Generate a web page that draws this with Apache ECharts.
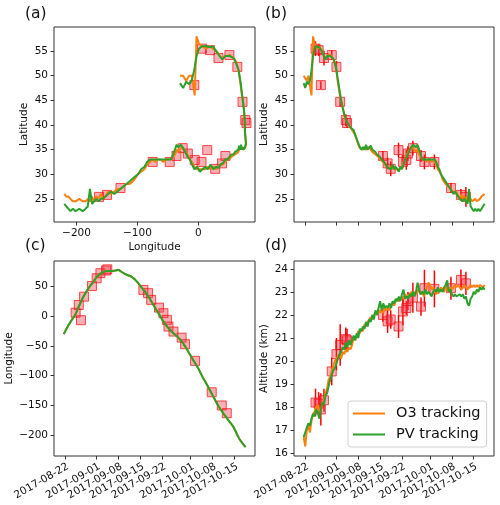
<!DOCTYPE html>
<html><head><meta charset="utf-8">
<script src="https://cdn.jsdelivr.net/npm/echarts@6/dist/echarts.min.js"></script>
<style>html,body{margin:0;padding:0;background:#fff}#c{width:500px;height:505px}</style>
</head><body><div id="c"></div>
<script>
// Sampling of the tracks: every half day, day number = days since 31 July 2017
const startDay = 21.5, stepDays = 0.5;

const pvLon = [-30,-25,-20,-15,-11,-7,-3,1,6,13,19,24,30,35,39.5,44,48,51.5,55,58.4,62,66,69,71,73,74.5,75.5,76,76.5,76,76.5,76,76.5,77,77.5,78,76.5,74.5,73,71.5,70,69,68,67,65.5,63,60,57.5,54,51,47.5,44,40.5,37,33,29,24.5,20,15.5,11,7,2.5,-2,-6.5,-10.5,-14,-17.5,-20.5,-23.5,-26,-28.5,-31,-33,-35.5,-38.5,-41.5,-45,-49,-53,-57.5,-62,-66.5,-71,-75.5,-79.5,-84,-88.5,-94,-99,-104.5,-109,-113.5,-118,-123,-128,-133,-138,-143,-148,-152.5,-156.5,-160,-164,-167.5,-171,-174.5,-178,-181.5,-185,-190,-195.5,-201.5,-206,-210,-213.5,-217,-220];
const o3Lon = [-30,-25,-20,-15,-11,-6,-3,1,6,13,19,24,30,35,39.5,44,48,51.5,55,58.4,62.5,66,69,71,73,74.5,75.5,76,76.5,76,76.5,76,76.5,77,77.5,78.5,76.5,74.5,73,71.5,70,69,68,67,65.5,63,60,57.5,54,51,47.5,44,40.5,37,33,29,24.5,20,15.5,11,7.5,2.5,-2,-6.5,-10.5,-14,-17.5,-20.5,-23.5,-26,-28.5,-31,-33,-35.5,-38.5,-41.5,-45,-49,-53,-57.5,-62,-66.5,-71,-75.5,-79.5,-84,-88.5,-94,-99,-104.5,-108,-113.5,-118,-123,-128,-133,-138,-143,-148,-152.5,-156.5,-160,-164,-167.5,-171,-175,-178,-181.5,-185,-190,-195.5,-201.5,-206,-210,-213.5,-217,-220];
const pvLat = [48.5,47.5,48.8,48.3,49,51,54,55.5,56,56,55.8,56,54.8,54,53.3,54,54,54,53.8,53.5,52.5,51.2,49,47,45,43.5,42.3,41.2,40.5,40,39.5,39.2,39,38,37.2,36.3,35.5,35,35.5,35,36,35,35,35.8,35,35,34.5,34,34,33.5,33,33,32.3,32,31.3,31.5,31,32,31,31.5,31,30.5,31.5,31,32,33,33.5,33.5,35,35.5,36,36,35.5,36,35,34,33,33,33,33,33,33,33,33,33,32.5,31.5,31,30,29.5,29,28.5,28,27.5,27,26.5,26,26.5,26,25.5,25,25,24.5,25,24.5,24,27,23.5,23,22.5,23,22.5,23,22.5,23,23.5,24];
const o3Lat = [50,50,49,50,50,46,58,56.5,56,55.5,56,55.5,55,54,53.5,54,54,54.3,53.8,53.5,52.8,51,48.5,46.5,45,43.5,42,41,40.5,40,39.5,39,38.5,38,37,36,35.3,35,35,35.5,35,35,35.5,35,34.5,34.5,34,34,33.5,33,33,32.5,32,32,31.5,31,31.5,31,31.5,31,31,31,31,31.5,32.5,33,34,34,35,35.5,35.5,35,34.5,35,34,33.5,33,33,33,32.5,33,33,32.5,33,32.5,32,31,30.5,30,29,28.5,28,28,27.5,27,27,26.5,26,26.5,25.5,25,26,25,25.5,24.5,25.5,24.5,25,24.5,24.5,25,24.5,24.5,25,25.5,25.5,26];
const pvAlt = [16.7,16.9,17.1,17.3,17.2,17.5,17.7,17.6,17.9,17.8,17.5,17.9,18.2,18.1,18.5,18.6,18.9,19.2,19.4,19.6,19.7,19.9,20.1,20.3,20.4,20.6,20.5,20.8,20.6,20.9,20.7,20.9,21.1,20.9,21.2,21.0,21.4,21.3,21.5,21.4,21.7,21.5,21.8,21.7,22.0,21.8,22.2,22.0,22.3,22.6,22.2,22.5,22.3,22.4,22.3,22.5,22.3,22.6,22.5,22.7,22.6,22.8,22.6,22.9,23.1,22.7,22.8,22.7,22.9,22.8,23.0,22.8,23.0,23.4,23.1,22.9,23.0,22.9,23.1,22.9,23.0,22.9,22.8,23.0,23.1,23.0,23.2,23.0,23.1,23.0,23.2,23.3,23.5,23.0,23.1,22.9,22.8,22.9,22.8,22.8,22.9,22.8,22.9,22.7,22.8,22.5,22.4,22.7,22.8,23.0,22.9,23.1,23.0,23.2,23.1,23.2,23.1];
const o3Alt = [16.7,16.3,17.0,17.2,16.9,17.4,17.7,17.8,18.0,18.1,17.8,17.9,18.1,18.3,18.6,18.8,19.2,19.3,19.6,19.8,20.0,20.1,20.2,20.3,20.1,20.4,20.3,20.5,20.4,20.6,20.5,20.7,21.0,20.9,21.1,21.3,21.2,21.4,21.3,21.6,21.5,21.7,21.8,21.9,21.8,22.0,22.1,22.0,22.2,22.1,22.2,22.1,22.3,22.2,22.3,22.2,22.4,22.5,22.4,22.6,22.7,22.6,22.7,22.8,22.7,22.9,22.8,22.9,22.8,23.0,22.9,23.0,22.9,23.1,23.0,22.9,23.0,22.8,23.0,23.2,23.4,23.3,23.1,23.2,23.0,22.9,23.1,23.0,23.2,23.1,23.0,23.2,23.1,23.0,23.2,23.1,23.2,23.3,23.2,23.3,23.2,23.1,23.2,23.3,23.2,23.1,23.2,23.3,23.2,23.3,23.2,23.3,23.2,23.3,23.3,23.2,23.3];

// Observations (red squares with error bars)
const obsDay = [25.3,26.3,27.0,28.0,30.5,32.0,33.2,35.0,35.4,46.9,48.4,49.4,51.9,53.3,54.4,54.9,56.5,59.1,60.2,63.4,68.7,71.9,73.5];
const obsLon = [6,19,-6.6,33,51,64,72.5,77,79,44.4,38.9,27.6,14.6,5.2,-6,-17.3,-25.7,-35.9,-47,-75,-127.8,-150,-163];
const obsLat = [55.5,55.2,48.1,53.6,54.2,51.8,44.7,41.0,40.4,33.7,32.2,31.1,34.9,32.5,32.9,34.2,35.3,33.7,32.5,32.5,27.2,25.8,25.4];
const obsLatErr = [1.5,1.2,0.8,1.5,1.0,1.2,1.0,1.2,1.0,1.0,1.2,1.5,1.5,1.2,2.0,1.5,1.5,1.2,1.5,1.5,1.0,1.2,2.0];
const obsAlt = [18.2,18.15,17.9,18.3,19.55,20.3,20.7,20.95,20.9,22.0,21.72,21.8,21.5,22.15,22.3,22.6,22.75,22.36,23.16,23.13,23.16,23.52,23.37];
const obsAltErr = [0.6,0.5,0.7,0.5,0.6,0.7,0.9,0.5,0.5,0.3,0.5,0.4,0.5,0.6,0.3,0.4,0.65,0.4,0.8,0.8,0.5,0.45,0.5];

// Tick labels
const tickDays = [22,32,39,46,53,62,69,76];
const tickLabels = ['2017-08-22','2017-09-01','2017-09-08','2017-09-15','2017-09-22','2017-10-01','2017-10-08','2017-10-15'];
const lonTicksA = [-200,-100,0];
const latTicks = [25,30,35,40,45,50,55];
const lonTicksC = [-200,-150,-100,-50,0,50];
const altTicks = [16,17,18,19,20,21,22,23,24];

const O3C = '#ff7f0e', PVC = '#2ca02c';
const FONT = 'DejaVu Sans';
const days = pvLon.map((_, i) => startDay + stepDays * i);
const zip = (a, b) => a.map((v, i) => [v, b[i]]);
const minus = v => String(v).replace('-', '\u2212');

function axis(gi, min, max, ticks, extra) {
  return Object.assign({
    type: 'value', gridIndex: gi, min: min, max: max,
    splitLine: {show: false},
    axisLine: {show: false, onZero: false},
    axisTick: {show: true, customValues: ticks, length: 3.5, lineStyle: {color: '#333', width: 1}},
    axisLabel: {show: true, customValues: ticks, formatter: minus, fontFamily: FONT, fontSize: 10.5, color: '#111', margin: 6},
    nameTextStyle: {fontFamily: FONT, fontSize: 10.5, color: '#111'}
  }, extra || {});
}
function dateAxis(gi, showLabels) {
  const a = axis(gi, 18.4, 82.5, tickDays);
  a.axisLabel = {show: showLabels, customValues: tickDays, rotate: 30, margin: 5,
    align: 'right', verticalAlign: 'top',
    formatter: v => tickLabels[tickDays.indexOf(v)] || '',
    fontFamily: FONT, fontSize: 10.5, color: '#111'};
  return a;
}
function lineSeries(name, color, xi, data) {
  return {type: 'line', name: name, xAxisIndex: xi, yAxisIndex: xi, data: data,
    symbol: 'none', showSymbol: false, animation: false, z: 3,
    itemStyle: {color: color}, lineStyle: {color: color, width: 2}};
}
function obsSeries(xi, data) {
  return {type: 'scatter', name: 'obs', xAxisIndex: xi, yAxisIndex: xi, data: data,
    symbol: 'rect', symbolSize: 9, animation: false, z: 2,
    itemStyle: {color: 'rgba(238,60,80,0.5)', borderColor: 'rgba(255,0,0,0.85)', borderWidth: 1}};
}
function errSeries(xi, data) {
  return {type: 'custom', name: 'err', xAxisIndex: xi, yAxisIndex: xi, data: data, z: 1,
    animation: false, encode: {x: 0, y: [1, 2]},
    renderItem: (p, api) => {
      const a = api.coord([api.value(0), api.value(1)]);
      const b = api.coord([api.value(0), api.value(2)]);
      return {type: 'line', shape: {x1: a[0], y1: a[1], x2: b[0], y2: b[1]},
        style: {stroke: '#ff0000', lineWidth: 1.5}};
    }};
}
const errData = (val, err) => obsDay.map((d, i) => [d, val[i] - err[i], val[i] + err[i]]);

const grids = [
  {left: 54, top: 27, width: 201, height: 195},
  {left: 294, top: 27, width: 200, height: 195},
  {left: 54, top: 261, width: 201, height: 195},
  {left: 294, top: 261, width: 200, height: 195}
].map(g => Object.assign(g, {show: true, borderColor: '#333', borderWidth: 1, backgroundColor: 'transparent'}));

const ttl = (t, l, tp) => ({text: t, left: l, top: tp, padding: 0,
  textStyle: {fontFamily: FONT, fontSize: 15.5, fontWeight: 'normal', color: '#111'}});

const option = {
  animation: false,
  backgroundColor: '#fff',
  title: [ttl('(a)', 25, 6), ttl('(b)', 265, 6), ttl('(c)', 25, 238), ttl('(d)', 265, 238)],
  grid: grids,
  xAxis: [
    axis(0, -237, 93, lonTicksA, {name: 'Longitude', nameLocation: 'middle', nameGap: 20}),
    dateAxis(1, false),
    dateAxis(2, true),
    dateAxis(3, true)
  ],
  yAxis: [
    axis(0, 20.3, 59.9, latTicks, {name: 'Latitude', nameLocation: 'middle', nameGap: 24}),
    axis(1, 20.3, 59.9, latTicks, {name: 'Latitude', nameLocation: 'middle', nameGap: 24}),
    axis(2, -235, 93, lonTicksC, {name: 'Longitude', nameLocation: 'middle', nameGap: 39}),
    axis(3, 15.88, 24.34, altTicks, {name: 'Altitude (km)', nameLocation: 'middle', nameGap: 24})
  ],
  legend: {
    data: ['O3 tracking', 'PV tracking'], orient: 'vertical', left: 348, top: 401,
    icon: 'rect', itemWidth: 32, itemHeight: 2, itemGap: 4,
    padding: [4, 6, 4, 5], borderColor: '#d0d0d0', borderWidth: 1, borderRadius: 3,
    backgroundColor: 'rgba(255,255,255,0.85)',
    textStyle: {fontFamily: FONT, fontSize: 14.5, color: '#111', lineHeight: 17, padding: [0, 0, 0, 6]}
  },
  series: [
    obsSeries(0, zip(obsLon, obsLat)),
    lineSeries('O3 tracking', O3C, 0, zip(o3Lon, o3Lat)),
    lineSeries('PV tracking', PVC, 0, zip(pvLon, pvLat)),

    errSeries(1, errData(obsLat, obsLatErr)),
    obsSeries(1, zip(obsDay, obsLat)),
    lineSeries('O3 tracking', O3C, 1, zip(days, o3Lat)),
    lineSeries('PV tracking', PVC, 1, zip(days, pvLat)),

    obsSeries(2, zip(obsDay, obsLon)),
    lineSeries('O3 tracking', O3C, 2, zip(days, o3Lon)),
    lineSeries('PV tracking', PVC, 2, zip(days, pvLon)),

    errSeries(3, errData(obsAlt, obsAltErr)),
    obsSeries(3, zip(obsDay, obsAlt)),
    lineSeries('O3 tracking', O3C, 3, zip(days, o3Alt)),
    lineSeries('PV tracking', PVC, 3, zip(days, pvAlt))
  ]
};
const chart = echarts.init(document.getElementById('c'), null, {renderer: 'canvas'});
chart.setOption(option);
</script>
</body></html>
